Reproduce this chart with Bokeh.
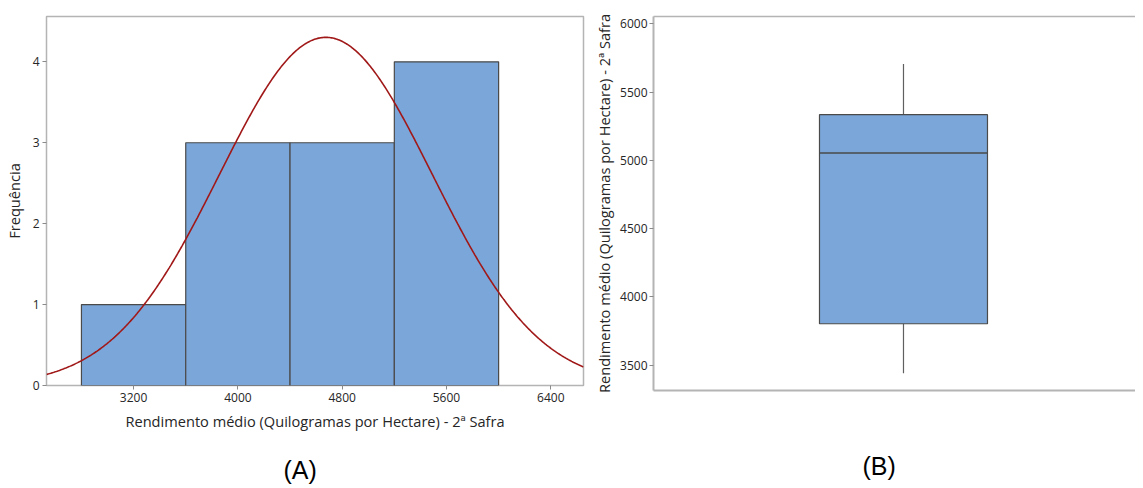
import numpy as np
from bokeh.plotting import figure
from bokeh.models import Range1d, FixedTicker, Title, LinearAxis
from bokeh.layouts import row
from bokeh.embed import file_html
from bokeh.resources import INLINE

# ---------------- data ----------------
bin_edges = [2800, 3600, 4400, 5200, 6000]
frequencies = [1, 3, 3, 4]
n_obs = 11
fit_mean = 4675
fit_sd = 816
x_ticks_a = [3200, 4000, 4800, 5600, 6400]
y_ticks_a = [0, 1, 2, 3, 4]

box_q1 = 3803
box_median = 5053
box_q3 = 5334
whisker_low = 3441
whisker_high = 5705
y_ticks_b = [3500, 4000, 4500, 5000, 5500, 6000]

label_x = "Rendimento médio (Quilogramas por Hectare) - 2ª Safra"
label_freq = "Frequência"

# ---------------- style ----------------
FONT = "Open Sans"
BAR = "#7BA6D9"
EDGE = "#4a4a4a"
FRAME = "#b4b4b4"
TICK = "#8a8a8a"
TXT = "#262626"
CURVE = "#A01818"


def style_axis(ax):
    ax.axis_line_color = None
    ax.major_tick_line_color = TICK
    ax.major_tick_in = 0
    ax.major_tick_out = 4
    ax.minor_tick_line_color = None
    ax.major_label_text_font = FONT
    ax.major_label_text_font_size = "12px"
    ax.major_label_text_color = TXT
    ax.major_label_standoff = 3
    ax.axis_label_text_font = FONT
    ax.axis_label_text_font_size = "14.6px"
    ax.axis_label_text_font_style = "normal"
    ax.axis_label_text_color = TXT
    ax.axis_label_standoff = 6


# ---------------- panel A ----------------
x0a, x1a = 2532, 6651
p1 = figure(output_backend="svg", toolbar_location=None, tools="",
            frame_width=537, frame_height=369,
            min_border_left=37, min_border_right=8, min_border_top=8,
            min_border_bottom=0,
            x_range=Range1d(x0a, x1a), y_range=Range1d(0, 4.56))
p1.xgrid.grid_line_color = None
p1.ygrid.grid_line_color = None
p1.outline_line_color = FRAME
p1.outline_line_width = 1.5

p1.quad(left=bin_edges[:-1], right=bin_edges[1:], bottom=0, top=frequencies,
        fill_color=BAR, line_color=EDGE, line_width=1.2)

bw = bin_edges[1] - bin_edges[0]
xs = np.linspace(x0a, x1a, 500)
ys = n_obs * bw / (fit_sd * np.sqrt(2 * np.pi)) * np.exp(-0.5 * ((xs - fit_mean) / fit_sd) ** 2)
p1.line(xs, ys, line_color=CURVE, line_width=1.6)

p1.xaxis.ticker = FixedTicker(ticks=x_ticks_a)
p1.yaxis.ticker = FixedTicker(ticks=y_ticks_a)
p1.xaxis.axis_label = label_x
p1.yaxis.axis_label = label_freq
style_axis(p1.xaxis[0])
style_axis(p1.yaxis[0])
p1.add_layout(Title(text="(A)", align="left", offset=237, standoff=40,
                    text_font="Liberation Sans", text_font_size="25px",
                    text_font_style="normal", text_color="#000000"), "below")

# ---------------- panel B ----------------
p2 = figure(output_backend="svg", toolbar_location=None, tools="",
            frame_width=482, frame_height=374,
            min_border_left=55, min_border_right=0, min_border_top=16,
            min_border_bottom=0,
            x_range=Range1d(-1.488, 1.381), y_range=Range1d(3314, 6053))
p2.xgrid.grid_line_color = None
p2.ygrid.grid_line_color = None
p2.outline_line_color = None

p2.segment(x0=[0, 0], y0=[box_q3, box_q1], x1=[0, 0], y1=[whisker_high, whisker_low],
           line_color="#606060", line_width=1.2)
p2.quad(left=[-0.5], right=[0.5], bottom=[box_q1], top=[box_q3],
        fill_color=BAR, line_color=EDGE, line_width=1.2)
p2.segment(x0=[-0.5], y0=[box_median], x1=[0.5], y1=[box_median],
           line_color=EDGE, line_width=1.5)

p2.yaxis.ticker = FixedTicker(ticks=y_ticks_b)
p2.yaxis.axis_label = label_x
style_axis(p2.yaxis[0])
p2.yaxis.axis_line_color = FRAME
p2.yaxis.axis_line_width = 2
p2.yaxis.axis_label_standoff = 3
p2.yaxis.major_label_standoff = 2

xb = p2.xaxis[0]
xb.ticker = FixedTicker(ticks=[])
xb.axis_line_color = FRAME
xb.axis_line_width = 2
xb.major_tick_line_color = None
xb.minor_tick_line_color = None
xb.major_label_text_font_size = "0px"

top_ax = LinearAxis(ticker=FixedTicker(ticks=[]), axis_line_color=FRAME, axis_line_width=1.5,
                    major_tick_line_color=None, minor_tick_line_color=None,
                    major_label_text_font_size="0px")
p2.add_layout(top_ax, "above")

p2.add_layout(Title(text="(B)", align="left", offset=209, standoff=119,
                    text_font="Liberation Sans", text_font_size="25px",
                    text_font_style="normal", text_color="#000000"), "below")

layout = row(p1, p2)
open("out.html", "w").write(file_html(layout, INLINE))
